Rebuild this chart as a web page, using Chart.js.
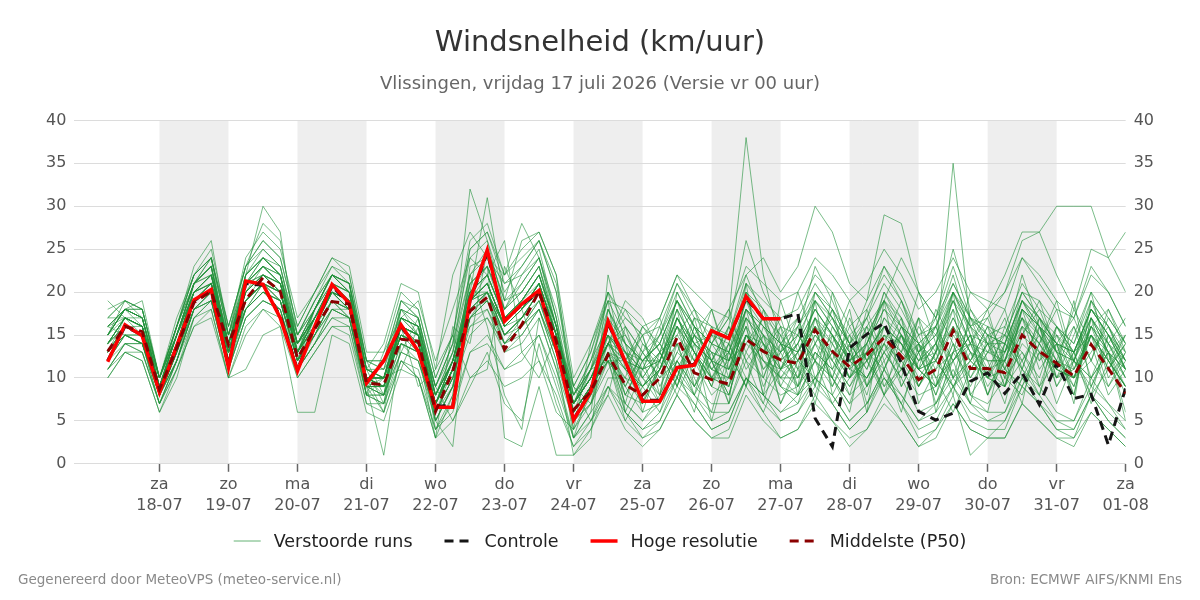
<!DOCTYPE html>
<html lang="nl">
<head>
<meta charset="utf-8">
<title>Windsnelheid (km/uur)</title>
<script src="https://cdn.jsdelivr.net/npm/chart.js@4.4.1/dist/chart.umd.min.js"></script>
<style>
    html, body { margin: 0; padding: 0; background: #fff; }
    #wrap { width: 1200px; height: 600px; }
</style>
</head>
<body>
<div id="wrap"><canvas id="windChart" width="1200" height="600"></canvas></div>
<script>
// uren sinds vr 17-07 00 uur (elke 6 uur)
const hours = [6,12,18,24,30,36,42,48,54,60, 66,72,78,84,90,96,102,108,114,120,
    126,132,138,144,150,156,162,168,174,180, 186,192,198,204,210,216,222,228,234,240,
    246,252,258,264,270,276,282,288,294,300, 306,312,318,324,330,336,342,348,354,360];

const dayTicks = [24,48,72,96,120,144,168,192,216,240,264,288,312,336,360];
const dayNames = ['za','zo','ma','di','wo','do','vr','za','zo','ma','di','wo','do','vr','za'];
const dayDates = ['18-07','19-07','20-07','21-07','22-07','23-07','24-07','25-07','26-07','27-07','28-07','29-07','30-07','31-07','01-08'];
const shadedDays = [24,72,120,168,216,264,312];

// Hoge resolutie (loopt tot ma 27-07)
const hogeResolutie = [11.9,16.2,14.9,8.3,13.7,19.1,20.3,11.2,21.3,20.9, 17.0,10.8,16.0,20.9,18.7,9.4,12.0,16.2,13.1,6.6,
    6.6,19.1,24.9,16.6,18.6,20.2,13.5,5.1,8.4,16.6, 11.9,7.3,7.3,11.2,11.5,15.5,14.6,19.5,16.9,16.9];

const controle = [12.0,16.0,15.0,8.4,13.5,19.0,20.2,11.4,21.0,20.8, 17.2,11.0,16.0,20.7,18.6,9.5,12.0,16.0,13.2,6.7,
    6.8,19.0,24.6,16.7,18.5,20.0,13.6,5.2,8.5,16.4, 11.8,7.4,7.4,11.2,11.6,15.4,14.7,19.3,16.9,16.9,
    17.5,5.3,2.0,13.5,15.1,16.4,11.7,6.1,5.1,5.9, 9.6,10.6,8.2,10.6,6.9,11.7,7.6,8.1,2.2,8.8];

const middelste = [13.1,16.0,15.4,8.7,13.5,18.8,20.1,13.9,19.1,21.7, 20.1,12.3,15.7,18.9,18.6,9.4,9.2,14.5,14.3,6.1,
    10.8,17.8,19.4,13.3,16.2,20.1,14.3,6.3,8.4,12.7, 9.2,8.0,10.0,14.7,10.6,9.8,9.3,14.5,13.1,12.1,
    11.7,15.6,13.1,11.3,12.7,14.7,12.5,9.8,11.0,15.5, 11.1,11.1,10.6,15.0,13.1,11.7,10.2,13.9,11.1,8.2];

// Verstoorde runs (ensemble-leden)
const verstoordeRuns = [
    [15,18,17,9,14,20,22,12,21,23, 21,14,17,20,19,10,8,16,15,6, 10,19,22,17,19,21,15,5,8,14, 11,9,12,17,13,9,8,15,14,11, 13,17,12,9,13,16,14,11,9,14, 12,10,9,16,14,10,11,15,12,9],
    [12,15,14,8,12,18,20,14,18,21, 19,12,15,19,18,9,12,18,15,9, 14,22,16,8,4,17,11,3,9,18, 14,6,12,18,9,13,7,21,10,16, 8,17,11,14,6,19,9,13,16,12, 7,15,9,18,12,14,8,17,10,13],
    [17,19,18,10,15,21,24,13,22,25, 23,15,19,22,21,11,7,18,16,5, 9,22,25,19,21,24,17,4,7,16, 13,10,8,12,15,13,9,18,16,14, 10,19,16,13,9,12,15,13,8,13, 14,9,12,18,16,13,8,17,13,11],
    [11,14,13,7,11,17,19,11,17,19, 18,11,14,17,17,8,7,16,9,11, 15,10,11,23,18,12,6,4,14,19, 6,11,16,9,14,5,12,17,8,19, 13,7,15,10,18,12,6,14,9,20, 15,8,12,7,16,11,19,9,13,5],
    [14,17,16,9,15,20,21,15,20,22, 20,13,17,20,18,10,9,15,14,7, 11,20,20,16,18,20,14,6,9,13, 12,15,8,13,17,10,14,9,18,11, 16,9,20,13,8,15,11,17,6,13, 10,14,18,11,8,16,13,7,12,15],
    [19,17,15,9,16,21,23,13,21,24, 22,13,18,21,20,9,6,17,16,4, 8,23,24,21,22,24,16,3,6,18, 14,12,7,10,17,16,10,20,18,15, 9,20,18,14,7,11,16,14,7,12, 15,8,13,19,17,14,7,19,14,12],
    [13,16,16,8,13,19,20,12,19,21, 20,12,16,19,18,10,10,15,14,6, 11,18,20,15,17,20,14,6,9,13, 7,5,8,20,16,12,15,22,17,9, 8,12,10,6,15,19,15,9,13,20, 8,6,14,22,16,9,12,17,13,6],
    [16,18,19,10,17,22,25,16,23,26, 24,16,20,23,22,12,12,19,17,9, 14,24,26,20,23,26,20,9,13,19, 15,12,14,19,16,14,13,18,16,14, 16,19,17,14,16,19,17,13,15,19, 16,14,15,20,17,15,13,18,15,12],
    [10,13,12,6,10,17,18,10,16,18, 17,10,13,16,16,7,6,12,10,4, 7,13,14,11,12,15,9,3,5,9, 6,4,6,10,8,5,6,10,8,6, 7,10,8,5,7,10,8,5,6,9, 6,5,5,9,7,5,4,8,6,4],
    [14,16,15,8,14,19,21,14,20,22, 21,13,17,21,19,10,9,16,15,7, 12,19,21,16,18,21,15,7,10,14, 17,15,16,21,18,16,15,21,19,17, 18,22,20,16,18,22,19,15,17,21, 17,16,15,20,19,16,14,20,17,14],
    [16,15,14,9,15,19,20,13,18,21, 19,12,15,18,18,11,11,14,13,8, 12,16,17,14,15,18,13,8,11,12, 9,13,17,11,6,14,18,12,15,7, 11,19,8,12,16,9,13,20,14,10, 17,12,7,15,19,13,9,16,11,14],
    [13,17,16,8,13,21,23,12,22,24, 22,12,18,22,21,9,8,17,15,5, 9,21,23,18,20,23,15,4,8,15, 9,6,7,12,9,7,7,12,10,8, 9,13,10,7,9,13,10,6,7,11, 7,6,6,11,9,6,5,10,7,5],
    [12,16,15,9,14,19,20,11,19,21, 20,14,16,20,18,8,13,17,19,12, 18,24,22,26,13,10,15,9,5,8, 16,10,7,14,12,18,11,16,9,13, 20,14,10,17,12,8,15,11,18,14, 9,13,17,10,14,19,12,8,15,11],
    [15,19,18,10,16,23,26,15,24,27, 25,17,20,24,23,13,13,20,18,10, 15,26,28,22,25,27,22,10,14,20, 16,13,15,21,17,15,14,20,17,15, 17,21,18,15,17,21,18,14,16,20, 17,15,16,21,18,16,14,19,16,13],
    [11,13,13,7,11,16,18,10,15,18, 16,10,13,16,15,7,7,12,11,4, 6,13,15,11,13,15,10,3,6,9, 7,5,7,11,8,6,6,10,8,6, 8,10,8,5,7,11,8,5,7,10, 7,5,6,10,8,5,5,9,7,4],
    [14,17,17,9,14,20,22,14,21,22, 21,14,17,20,19,10,10,16,15,7, 11,19,21,16,18,21,15,7,10,14, 8,12,15,19,13,9,16,12,7,14, 10,15,12,18,9,13,17,7,11,16, 13,8,14,11,17,10,15,20,12,9],
    [18,19,17,10,16,22,24,16,23,28, 26,15,19,22,21,12,8,19,17,8, 13,25,27,22,24,26,20,8,12,19, 18,14,12,16,14,12,16,26,20,16, 15,23,19,14,17,23,19,14,16,22, 15,14,13,20,17,13,12,18,15,11],
    [13,15,14,8,13,18,19,12,18,20, 19,11,15,18,17,9,10,14,12,6, 10,17,18,14,16,18,13,6,9,12, 12,9,11,16,13,11,10,15,12,10, 10,13,11,8,10,14,11,8,9,13, 20,18,20,24,21,18,17,22,20,16],
    [12,16,15,8,13,19,20,13,19,21, 20,13,16,20,18,9,9,15,14,7, 11,18,20,15,17,20,14,6,9,13, 6,4,5,9,7,4,5,10,7,5, 6,10,7,4,6,11,7,4,5,9, 5,4,4,9,7,4,3,8,5,3],
    [15,17,16,10,15,20,22,13,20,22, 20,14,17,20,19,11,10,16,14,8, 12,19,20,16,17,20,15,8,11,14, 18,16,17,22,18,14,13,19,16,14, 13,17,15,12,14,19,24,20,17,25, 18,15,14,19,17,14,13,18,16,12],
    [13,15,15,8,13,19,21,13,19,21, 20,13,16,20,18,10,6,12,10,3, 16,14,25,19,26,27,22,6,11,20, 11,7,13,10,16,12,8,15,13,17, 11,8,14,19,15,10,7,12,16,10, 14,18,11,9,13,7,12,16,18,13],
    [16,18,16,9,15,21,23,14,22,24, 22,14,18,22,20,11,10,17,15,7, 11,20,22,17,19,22,15,6,9,14, 12,11,15,20,16,11,10,17,14,11, 14,20,17,12,13,16,14,11,12,17, 13,11,12,18,15,12,10,16,13,9],
    [12,14,14,8,12,18,19,11,17,19, 18,11,14,18,17,8,7,13,12,5, 9,15,17,13,14,17,11,5,7,11, 13,9,6,12,8,15,12,19,14,7, 12,16,9,13,17,11,15,9,12,18, 8,11,15,13,10,16,12,9,14,17],
    [15,18,17,9,15,21,22,15,21,23, 22,15,18,22,20,11,14,21,20,11, 22,27,24,22,28,24,18,9,7,13, 7,14,11,16,10,6,13,9,15,12, 17,10,13,8,14,20,16,11,9,12, 15,10,13,16,9,12,18,14,8,11],
    [14,16,15,9,14,19,21,14,20,22, 20,13,16,20,18,10,9,16,14,7, 11,19,20,16,18,20,15,7,10,14, 15,11,8,17,13,10,12,16,8,11, 14,9,16,12,10,14,19,13,8,15, 12,16,10,8,13,11,16,10,13,15],
    [17,19,18,10,16,22,24,15,23,25, 23,15,19,23,21,12,11,18,17,8, 13,22,24,18,21,24,17,8,11,17, 14,12,14,19,15,13,12,18,15,13, 15,19,16,13,15,19,16,12,14,18, 14,13,13,18,16,13,12,17,14,11],
    [11,14,13,7,12,18,19,11,18,20, 18,11,14,18,17,8,10,11,16,9, 5,9,13,7,5,14,7,2,5,10, 10,16,13,9,15,11,14,20,12,9, 13,16,10,15,12,9,11,16,13,8, 18,14,11,17,13,15,10,12,18,14],
    [13,16,15,8,14,20,21,13,20,22, 20,13,17,20,19,10,10,16,15,7, 12,19,21,16,18,21,15,7,10,14, 13,8,11,15,18,12,7,13,17,11, 9,14,18,11,16,13,10,17,12,9, 13,10,16,12,8,14,17,12,9,13],
    [14,17,16,9,14,20,22,14,20,23, 21,14,17,21,19,10,9,16,15,7, 12,20,22,17,19,22,16,7,10,15, 12,10,13,19,16,14,17,38,22,14, 13,16,14,11,13,16,14,11,12,16, 12,10,11,16,14,11,10,15,12,9],
    [13,16,15,8,13,19,21,13,19,21, 20,13,16,20,18,9,9,15,14,7, 11,18,20,15,17,20,14,6,9,13, 10,9,11,16,12,10,10,15,12,11, 12,16,13,10,12,15,14,10,13,35, 16,13,12,17,14,11,10,15,12,9],
    [16,18,17,10,16,22,24,15,22,24, 23,14,18,22,21,11,10,18,17,9, 14,32,26,18,22,25,17,7,12,18, 13,11,13,18,14,12,11,16,13,12, 14,18,15,12,14,18,15,12,13,17, 13,12,12,17,15,12,11,16,13,10],
    [14,17,16,9,15,20,22,14,21,23, 21,14,17,21,20,10,9,16,15,8, 12,20,31,19,20,23,16,7,10,15, 13,12,14,19,15,13,12,17,14,12, 14,18,15,12,14,18,16,13,15,20, 16,17,20,26,27,30,30,30,24,20],
    [15,18,17,9,15,21,24,15,22,30, 27,13,18,22,21,11,10,17,16,8, 12,21,23,18,20,23,16,7,11,16, 14,12,12,17,14,15,18,22,24,20, 23,30,27,21,19,23,20,15,16,21, 17,15,14,19,16,14,13,18,15,11],
    [14,16,15,9,14,20,21,14,20,22, 20,13,17,20,19,10,10,16,15,7, 11,19,21,16,18,21,15,7,10,14, 12,11,12,17,14,12,11,18,15,13, 16,20,17,14,19,29,28,20,17,23, 17,14,14,19,16,14,13,18,15,12],
    [15,18,18,10,15,21,23,13,21,24, 22,12,17,21,20,9,1,14,13,3, 8,17,20,14,17,20,13,5,7,12, 6,3,4,8,5,3,4,9,6,3, 4,8,5,2,4,8,5,2,3,7, 4,3,3,7,5,3,2,6,4,2],
    [12,15,14,7,12,18,20,12,18,20, 19,12,15,19,18,8,8,14,13,5, 9,17,19,14,16,18,12,1,4,9, 5,3,5,10,7,4,5,10,8,5, 6,9,7,4,6,10,7,3,4,8, 1,3,5,10,7,4,4,8,5,3],
    [13,16,15,9,13,19,20,13,19,21, 20,13,16,20,18,10,9,15,14,7, 11,18,20,15,17,20,14,6,9,13, 11,9,11,16,13,10,9,14,12,10, 12,15,13,10,12,15,13,11,14,20, 16,18,22,27,27,22,18,25,24,27],
    [10,13,12,6,11,16,17,10,11,15, 16,6,6,15,14,6,5,11,10,3, 5,10,12,9,10,12,8,2,4,8, 4,2,4,8,5,3,3,8,5,3, 4,7,5,3,4,7,5,2,4,7, 4,3,3,7,5,3,3,6,4,2],
    [16,18,18,10,16,22,24,16,23,26, 24,16,20,24,22,12,12,19,18,10, 15,25,27,21,23,26,21,9,13,20, 17,15,17,22,20,18,17,23,21,19, 20,24,22,19,21,25,22,18,20,24, 20,19,18,24,22,19,17,23,20,16],
    [11,14,14,7,12,17,19,11,17,19, 18,11,14,17,16,8,8,13,12,6, 9,16,18,13,15,18,12,5,8,12, 5,9,12,8,13,9,14,10,6,11, 15,12,7,10,14,8,12,15,10,6, 11,14,9,12,16,10,13,8,11,15],
    [17,17,16,10,16,21,22,14,21,23, 21,15,18,21,20,12,11,17,16,9, 13,20,22,17,19,22,16,8,12,16, 13,11,12,18,14,11,13,21,18,14, 11,14,12,9,12,17,15,12,14,19, 14,12,12,19,15,11,10,16,14,10],
    [14,17,16,9,14,20,22,13,20,22, 21,13,17,21,19,10,9,16,14,7, 11,19,21,16,18,21,15,7,10,14, 19,17,13,15,12,8,10,17,15,10, 8,12,10,7,13,20,17,11,9,14, 8,7,10,18,16,12,9,15,13,8],
    [13,15,15,8,13,18,20,12,18,20, 19,12,15,19,17,9,9,15,13,6, 10,17,19,15,16,19,13,6,9,12, 9,13,10,14,8,12,16,11,14,9, 7,13,11,16,12,14,9,13,17,10, 12,15,11,9,14,18,11,15,9,12],
    [15,18,17,9,15,21,23,14,22,24, 22,14,18,22,20,10,10,17,16,7, 12,21,23,17,19,22,16,7,11,15, 8,7,11,17,13,10,9,15,13,10, 13,18,15,11,10,14,12,9,13,19, 14,10,9,15,13,10,12,19,16,11],
    [12,16,15,8,12,19,21,12,19,22, 20,12,16,20,18,9,8,13,17,5, 2,20,23,3,2,9,1,1,3,22, 14,10,13,9,16,14,11,15,13,16, 12,10,13,15,9,16,12,14,11,13, 16,10,14,12,15,9,13,17,14,10],
    [16,17,16,9,15,20,21,14,20,22, 20,14,17,20,19,10,10,16,15,8, 12,19,21,16,18,21,15,7,10,14, 11,15,9,13,11,16,13,18,11,14, 17,12,9,14,11,17,14,9,13,16, 10,13,15,11,17,14,10,13,16,12],
    [13,15,14,8,13,19,20,13,19,21, 19,12,16,19,18,9,9,15,14,7, 11,18,19,15,17,19,14,6,9,13, 8,12,14,11,15,10,13,9,16,12, 10,14,17,12,10,13,15,11,14,9, 12,16,13,17,11,14,12,10,15,13],
    [14,17,16,9,14,20,22,14,21,22, 21,13,17,21,19,10,10,16,15,7, 12,19,21,16,18,21,15,7,10,14, 16,13,10,12,9,14,17,13,10,15, 12,17,14,10,13,11,16,14,10,12, 15,11,9,14,12,16,13,15,11,14],
    [12,15,14,8,12,18,20,12,18,20, 19,12,15,19,17,9,8,14,13,6, 10,17,19,14,16,19,13,6,9,12, 10,7,11,14,9,12,8,15,11,13, 9,12,15,10,13,8,11,14,12,9, 11,14,10,13,9,15,12,10,13,11],
    [15,18,17,10,15,21,23,14,21,23, 22,14,18,22,20,11,10,17,16,8, 12,20,22,17,19,22,16,7,11,15, 12,16,14,10,15,18,12,14,17,13, 15,12,18,14,11,16,13,17,15,12, 14,17,12,15,18,13,16,12,17,14]
];

const COLORS = {
    run: 'rgba(34,145,58,0.6)',
    controle: '#151515',
    hoge: '#ff0000',
    middelste: '#8b0000',
    shade: '#eeeeee',
    grid: '#dcdcdc'
};

const FONT = "'DejaVu Sans', sans-serif";

function toPoints(values) {
    return values.map((v, i) => ({ x: hours[i], y: v }));
}

const datasets = [];

verstoordeRuns.forEach((run, idx) => {
    datasets.push({
        label: idx === 0 ? 'Verstoorde runs' : '',
        data: toPoints(run),
        borderColor: COLORS.run,
        borderWidth: 1,
        pointRadius: 0,
        order: 10
    });
});

datasets.push({
    label: 'Controle',
    data: toPoints(controle),
    borderColor: COLORS.controle,
    borderWidth: 3,
    borderDash: [9, 6],
    pointRadius: 0,
    order: 3
});
datasets.push({
    label: 'Hoge resolutie',
    data: toPoints(hogeResolutie),
    borderColor: COLORS.hoge,
    borderWidth: 3.5,
    pointRadius: 0,
    order: 2
});
datasets.push({
    label: 'Middelste (P50)',
    data: toPoints(middelste),
    borderColor: COLORS.middelste,
    borderWidth: 3,
    borderDash: [9, 6],
    pointRadius: 0,
    order: 1
});

const legendItems = [
    { text: 'Verstoorde runs', color: 'rgba(34,145,58,0.7)', width: 1, dash: [] },
    { text: 'Controle', color: COLORS.controle, width: 3, dash: [9, 6] },
    { text: 'Hoge resolutie', color: COLORS.hoge, width: 3.5, dash: [] },
    { text: 'Middelste (P50)', color: COLORS.middelste, width: 3, dash: [9, 6] }
];

const shadePlugin = {
    id: 'dayShade',
    beforeDraw(chart) {
        const { ctx, chartArea, scales } = chart;
        ctx.save();
        ctx.fillStyle = COLORS.shade;
        shadedDays.forEach(start => {
            const x0 = scales.x.getPixelForValue(start);
            const x1 = scales.x.getPixelForValue(start + 24);
            ctx.fillRect(x0, chartArea.top, x1 - x0, chartArea.bottom - chartArea.top);
        });
        ctx.restore();
    }
};

// eigen legenda + voetregels onder de grafiek
const legendFooterPlugin = {
    id: 'legendFooter',
    afterDraw(chart) {
        const ctx = chart.ctx;
        const swatch = 27, gapText = 13, gapItem = 32, legendY = 541;
        ctx.save();
        ctx.font = '17.5px ' + FONT;
        ctx.textBaseline = 'middle';
        const widths = legendItems.map(item => ctx.measureText(item.text).width);
        let total = 0;
        widths.forEach((w, i) => { total += swatch + gapText + w + (i < widths.length - 1 ? gapItem : 0); });
        let x = chart.width / 2 - total / 2;
        legendItems.forEach((item, i) => {
            ctx.beginPath();
            ctx.strokeStyle = item.color;
            ctx.lineWidth = item.width;
            ctx.setLineDash(item.dash);
            ctx.moveTo(x, legendY);
            ctx.lineTo(x + swatch, legendY);
            ctx.stroke();
            ctx.setLineDash([]);
            ctx.fillStyle = '#222222';
            ctx.textAlign = 'left';
            ctx.fillText(item.text, x + swatch + gapText, legendY + 1);
            x += swatch + gapText + widths[i] + gapItem;
        });

        ctx.font = '13.5px ' + FONT;
        ctx.fillStyle = '#8a8a8a';
        ctx.textAlign = 'left';
        ctx.fillText('Gegenereerd door MeteoVPS (meteo-service.nl)', 18, 580);
        ctx.textAlign = 'right';
        ctx.fillText('Bron: ECMWF AIFS/KNMI Ens', 1182, 580);
        ctx.restore();
    }
};

const ctx = document.getElementById('windChart').getContext('2d');
const chart = new Chart(ctx, {
    type: 'line',
    data: { datasets: datasets },
    plugins: [shadePlugin, legendFooterPlugin],
    options: {
        responsive: false,
        animation: false,
        devicePixelRatio: 1,
        layout: { padding: { left: 38, right: 38, top: 0, bottom: 81 } },
        elements: { line: { tension: 0 } },
        plugins: {
            title: {
                display: true,
                text: 'Windsnelheid (km/uur)',
                color: '#333333',
                font: { family: FONT, size: 29, weight: 'normal' },
                padding: { top: 26, bottom: 13 }
            },
            subtitle: {
                display: true,
                text: 'Vlissingen, vrijdag 17 juli 2026 (Versie vr 00 uur)',
                color: '#666666',
                font: { family: FONT, size: 18 },
                padding: { bottom: 25 }
            },
            legend: { display: false },
            tooltip: { enabled: false }
        },
        scales: {
            x: {
                type: 'linear',
                min: -5.6,
                max: 360,
                afterBuildTicks: scale => {
                    scale.ticks = dayTicks.map(v => ({ value: v }));
                },
                grid: {
                    drawOnChartArea: false,
                    drawTicks: true,
                    tickLength: 8,
                    tickColor: '#666666',
                    tickWidth: 1.5
                },
                border: { display: false },
                ticks: {
                    autoSkip: false,
                    maxRotation: 0,
                    padding: 2,
                    color: '#555555',
                    font: { family: FONT, size: 16, lineHeight: 1.35 },
                    callback: value => {
                        const i = dayTicks.indexOf(value);
                        return i >= 0 ? [dayNames[i], dayDates[i]] : '';
                    }
                }
            },
            y: {
                position: 'left',
                min: 0,
                max: 40,
                grid: { color: COLORS.grid, drawTicks: false },
                border: { display: false },
                ticks: {
                    stepSize: 5,
                    padding: 8,
                    color: '#555555',
                    font: { family: FONT, size: 16 }
                }
            },
            y2: {
                position: 'right',
                min: 0,
                max: 40,
                grid: { drawOnChartArea: false, drawTicks: false },
                border: { display: false },
                ticks: {
                    stepSize: 5,
                    padding: 8,
                    color: '#555555',
                    font: { family: FONT, size: 16 }
                }
            }
        }
    }
});
</script>
</body>
</html>
